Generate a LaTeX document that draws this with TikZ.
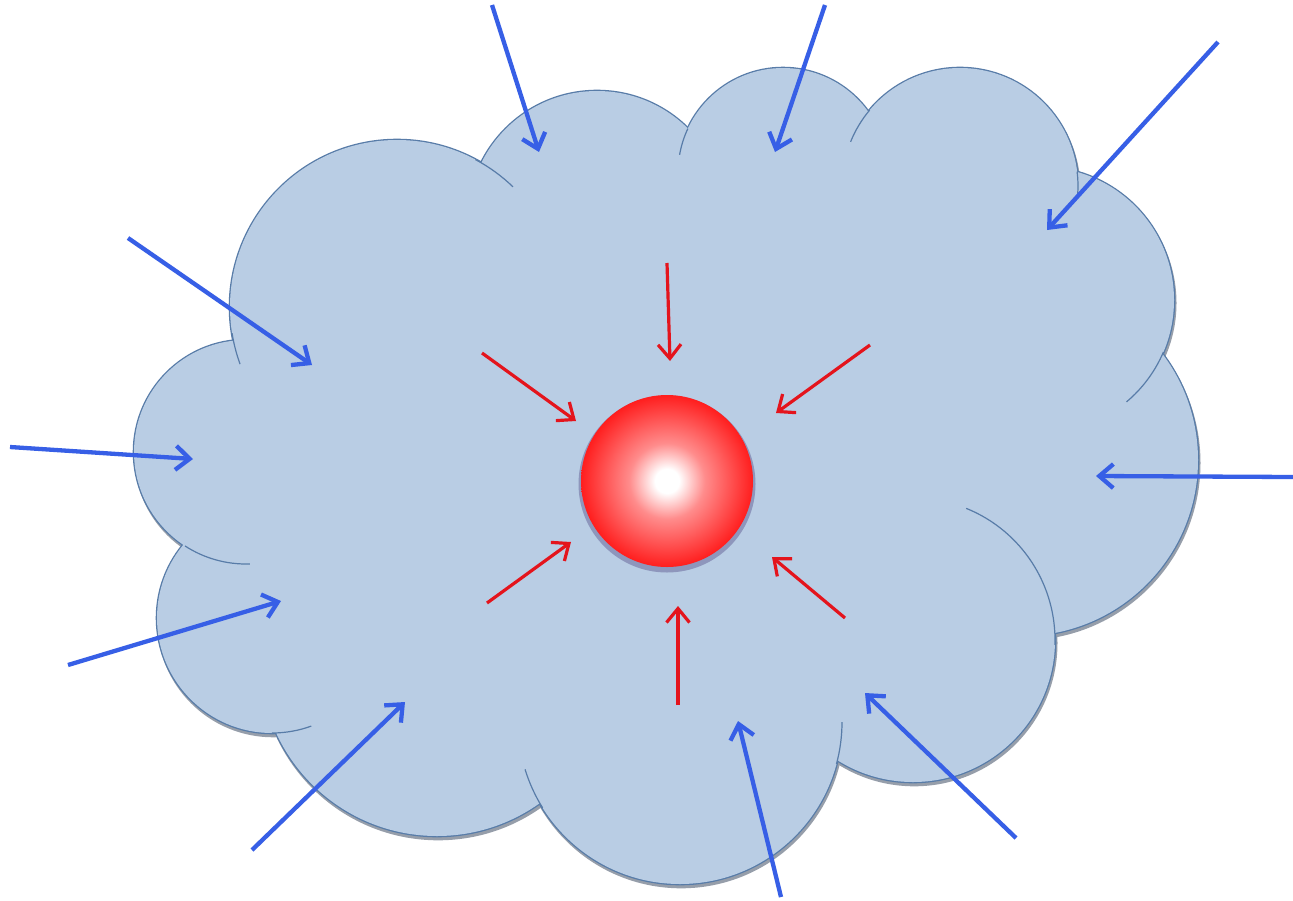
\documentclass[tikz,border=0pt]{standalone}
\usetikzlibrary{arrows.meta}
\definecolor{cloudfill}{RGB}{185,205,228}
\definecolor{cloudline}{RGB}{88,124,168}
\definecolor{cloudshadow}{RGB}{150,158,170}
\definecolor{arrowblue}{RGB}{55,95,230}
\definecolor{arrowred}{RGB}{228,20,28}
\definecolor{spherered}{RGB}{255,30,30}
\definecolor{sphererim}{RGB}{225,12,18}
\definecolor{spherepink}{RGB}{255,140,140}
\definecolor{sphereshadow}{RGB}{90,85,140}
\pgfdeclareradialshading{spheregrad}{\pgfpoint{0bp}{0bp}}{color(0bp)=(white); color(3.5bp)=(white); color(11bp)=(spherepink); color(25bp)=(spherered); color(45bp)=(spherered); color(50bp)=(sphererim)}
\def\cloudlist{246/452/112, 272/618/115, 437/659/177, 680/722/162, 913/640/142, 1022/460/176, 1041/300/133, 960/186/118, 783/173/105, 597/220/129, 397/307/167}
\tikzset{
  bluearrow/.style={draw=arrowblue, line width=4.3pt, -{Straight Barb[length=14pt,width=24pt]}},
  redarrow/.style={draw=arrowred, line width=3.2pt, -{Straight Barb[length=14pt,width=23pt]}},
  fragment/.style={draw=cloudline, line width=1.2pt}
}
\begin{document}
\begin{tikzpicture}[x=1pt,y=-1pt]
\fill[white] (0,0) rectangle (1293,900);
\useasboundingbox (0,0) rectangle (1293,900);
% shadow of the cloud
\begin{scope}[shift={(1.2,3)}]
\foreach \cx/\cy/\r in \cloudlist {\filldraw[fill=cloudshadow, draw=cloudshadow, line width=2.6pt] (\cx,\cy) circle[radius=\r];}
\end{scope}
% outline of the cloud
\foreach \cx/\cy/\r in \cloudlist {\filldraw[fill=cloudline, draw=cloudline, line width=2.6pt] (\cx,\cy) circle[radius=\r];}
% body of the cloud
\foreach \cx/\cy/\r in \cloudlist {\fill[cloudfill] (\cx,\cy) circle[radius=\r];}
\fill[cloudfill] (246,452) -- (272,618) -- (437,659) -- (680,722) -- (913,640) -- (1022,460) -- (1041,300) -- (960,186) -- (783,173) -- (597,220) -- (397,307) -- cycle;
% inner arc fragments
\draw[fragment] (397,307) ++(171:167) arc[start angle=171, end angle=160, radius=167];
\draw[fragment] (397,307) ++(-62:167) arc[start angle=-62, end angle=-46, radius=167];
\draw[fragment] (783,173) ++(205:105) arc[start angle=205, end angle=190, radius=105];
\draw[fragment] (960,186) ++(220:118) arc[start angle=220, end angle=202, radius=118];
\draw[fragment] (960,186) ++(-7:118) arc[start angle=-7, end angle=4, radius=118];
\draw[fragment] (1041,300) ++(23:133) arc[start angle=23, end angle=50, radius=133];
\draw[fragment] (913,640) ++(2:142) arc[start angle=2, end angle=-68, radius=142];
\draw[fragment] (680,722) ++(15:162) arc[start angle=15, end angle=0, radius=162];
\draw[fragment] (680,722) ++(148:162) arc[start angle=148, end angle=163, radius=162];
\draw[fragment] (272,618) ++(90:115) arc[start angle=90, end angle=70, radius=115];
\draw[fragment] (246,452) ++(123:112) arc[start angle=123, end angle=88, radius=112];
% sphere
\fill[sphereshadow, opacity=0.45] (667,484) circle[radius=88.5];
\node[circle, minimum size=172pt, inner sep=0pt, shading=spheregrad] (sphere) at (667,481) {};
% blue arrow end points
\coordinate (b1s) at (492,5);     \coordinate (b1e) at (539,152);
\coordinate (b2s) at (825,5);     \coordinate (b2e) at (775,152);
\coordinate (b3s) at (1218,42);   \coordinate (b3e) at (1047,230);
\coordinate (b4s) at (128,238);   \coordinate (b4e) at (312,365);
\coordinate (b5s) at (10,447);    \coordinate (b5e) at (193,459);
\coordinate (b6s) at (68,665);    \coordinate (b6e) at (281,601);
\coordinate (b7s) at (252,850);   \coordinate (b7e) at (405,702);
\coordinate (b8s) at (781,897);   \coordinate (b8e) at (738,721);
\coordinate (b9s) at (1016,838);  \coordinate (b9e) at (865,693);
\coordinate (b10s) at (1293,477); \coordinate (b10e) at (1096,476);
\foreach \i in {1,...,10} {\draw[bluearrow] (b\i s) -- (b\i e);}
% red arrow end points
\coordinate (r1s) at (667,263); \coordinate (r1e) at (670,361);
\coordinate (r2s) at (482,353); \coordinate (r2e) at (576,421);
\coordinate (r3s) at (870,345); \coordinate (r3e) at (776,413);
\coordinate (r4s) at (487,603); \coordinate (r4e) at (571,542);
\coordinate (r5s) at (678,705); \coordinate (r5e) at (678,606);
\coordinate (r6s) at (845,618); \coordinate (r6e) at (772,557);
\foreach \i in {1,...,6} {\draw[redarrow] (r\i s) -- (r\i e);}
\end{tikzpicture}
\end{document}
